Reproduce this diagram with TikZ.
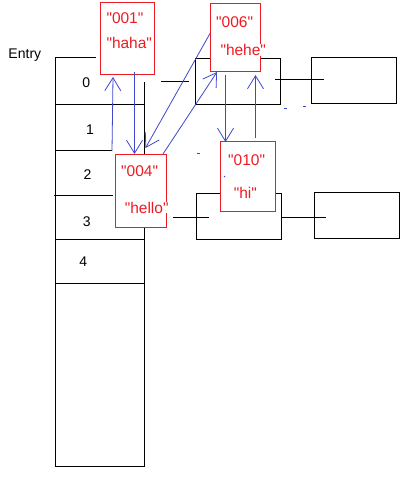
\documentclass[tikz,border=0pt]{standalone}
\usepackage{fontspec}
\setmainfont{Liberation Sans}
\usetikzlibrary{arrows.meta}
\definecolor{paintred}{RGB}{237,28,36}
\definecolor{paintblue}{RGB}{63,72,204}
\newcommand{\qt}[1]{\textquotedbl#1\textquotedbl}
\tikzset{
  rec/.style={draw=paintred, fill=white, line width=1pt, inner sep=0pt, anchor=north west},
  cell/.style={draw, line width=1pt, inner sep=0pt, anchor=north west},
  key/.style={text=paintred, fill=white, inner sep=0pt, anchor=base west, font=\fontsize{15.5}{15.5}\selectfont},
  idx/.style={inner sep=0pt, anchor=base, font=\fontsize{14}{14}\selectfont},
  ptr/.style={draw=paintblue, line width=0.8pt, -{Straight Barb[length=13pt,width=16pt]}},
  speck/.style={draw=paintblue, line width=0.8pt},
}
\begin{document}
\begin{tikzpicture}[x=1pt,y=-1pt,line width=1pt]
\useasboundingbox (0,0) rectangle (410,494);
% entry table
\draw (96,58) -- (55,58) -- (55,466) -- (144,466) -- (144,82);
\draw (55,105) -- (144,105);
\draw (55,151) -- (112,151);
\draw (54,195) -- (113,195);
\draw (55,239) -- (144,239);
\draw (55,283) -- (145,283);
\node[idx, anchor=base west] (entry) at (8,58.3) {Entry};
\node[idx] (i0) at (86.3,87.3) {0};
\node[idx] (i1) at (90,135) {1};
\node[idx] (i2) at (87.5,179.3) {2};
\node[idx] (i3) at (86.7,226.7) {3};
\node[idx] (i4) at (83.3,266.7) {4};
% buckets
\node[cell, minimum width=85pt, minimum height=46pt] (bucketA) at (195,58) {};
\node[cell, minimum width=85pt, minimum height=46pt] (nextA) at (311,57) {};
\node[cell, minimum width=85pt, minimum height=46pt] (bucketB) at (196,193) {};
\node[cell, minimum width=85pt, minimum height=46pt] (nextB) at (314,192) {};
\draw ([xshift=-6pt]bucketA.west) -- ++(-28,0);
\draw ([xshift=-6pt,yshift=2pt]bucketA.east) -- ++(49,0);
\draw ([xshift=-23pt,yshift=-1pt]bucketB.west) -- ++(36,0);
\draw ([yshift=-1pt]bucketB.east) -- ++(44,0);
% entries
\node[rec, minimum width=54pt, minimum height=72pt] (n001) at (100,2) {};
\node[rec, minimum width=50pt, minimum height=68pt] (n006) at (210,3) {};
\node[rec, minimum width=51pt, minimum height=73pt] (n004) at (115,154) {};
\node[rec, minimum width=55pt, minimum height=70pt] (n010) at (220,141) {};
\node[key] (k001) at (106,23.3) {\qt{001}};
\node[key] (v001) at (106,48.3) {\qt{haha}};
\node[key] (k006) at (215.7,27.7) {\qt{006}};
\node[key] (v006) at (220,55.7) {\qt{hehe}};
\node[key] (k004) at (120.7,176.7) {\qt{004}};
\node[key] (v004) at (124.3,213.3) {\qt{hello}};
\node[key] (k010) at (227.7,165.7) {\qt{010}};
\node[key] (v010) at (233.3,198.7) {\qt{hi}};
% links
\draw[ptr] ([xshift=-3pt,yshift=3pt]n004.north west) -- ([xshift=13pt,yshift=-2pt]n001.south west);
\draw[ptr] ([xshift=7pt,yshift=3pt]n001.south) -- ([xshift=-6.5pt]n004.north);
\draw[ptr] ([yshift=4pt]n006.west) -- ([xshift=4.5pt,yshift=6pt]n004.north);
\draw[ptr] ([xshift=-4pt]n004.north east) -- ([xshift=7pt]n006.south west);
\draw[ptr] ([xshift=-10pt,yshift=-3pt]n006.south) -- ([xshift=-22.5pt,yshift=-1pt]n010.north);
\draw[ptr] ([xshift=7.5pt,yshift=3pt]n010.north) -- ([xshift=20pt,yshift=-3pt]n006.south);
\draw[speck] (284,108) -- (287,108);
\draw[speck] (303,106) -- (306,106);
\draw[speck] (197,153) -- (200,153);
\draw[speck] (224,176) -- (225,177);
\end{tikzpicture}
\end{document}
